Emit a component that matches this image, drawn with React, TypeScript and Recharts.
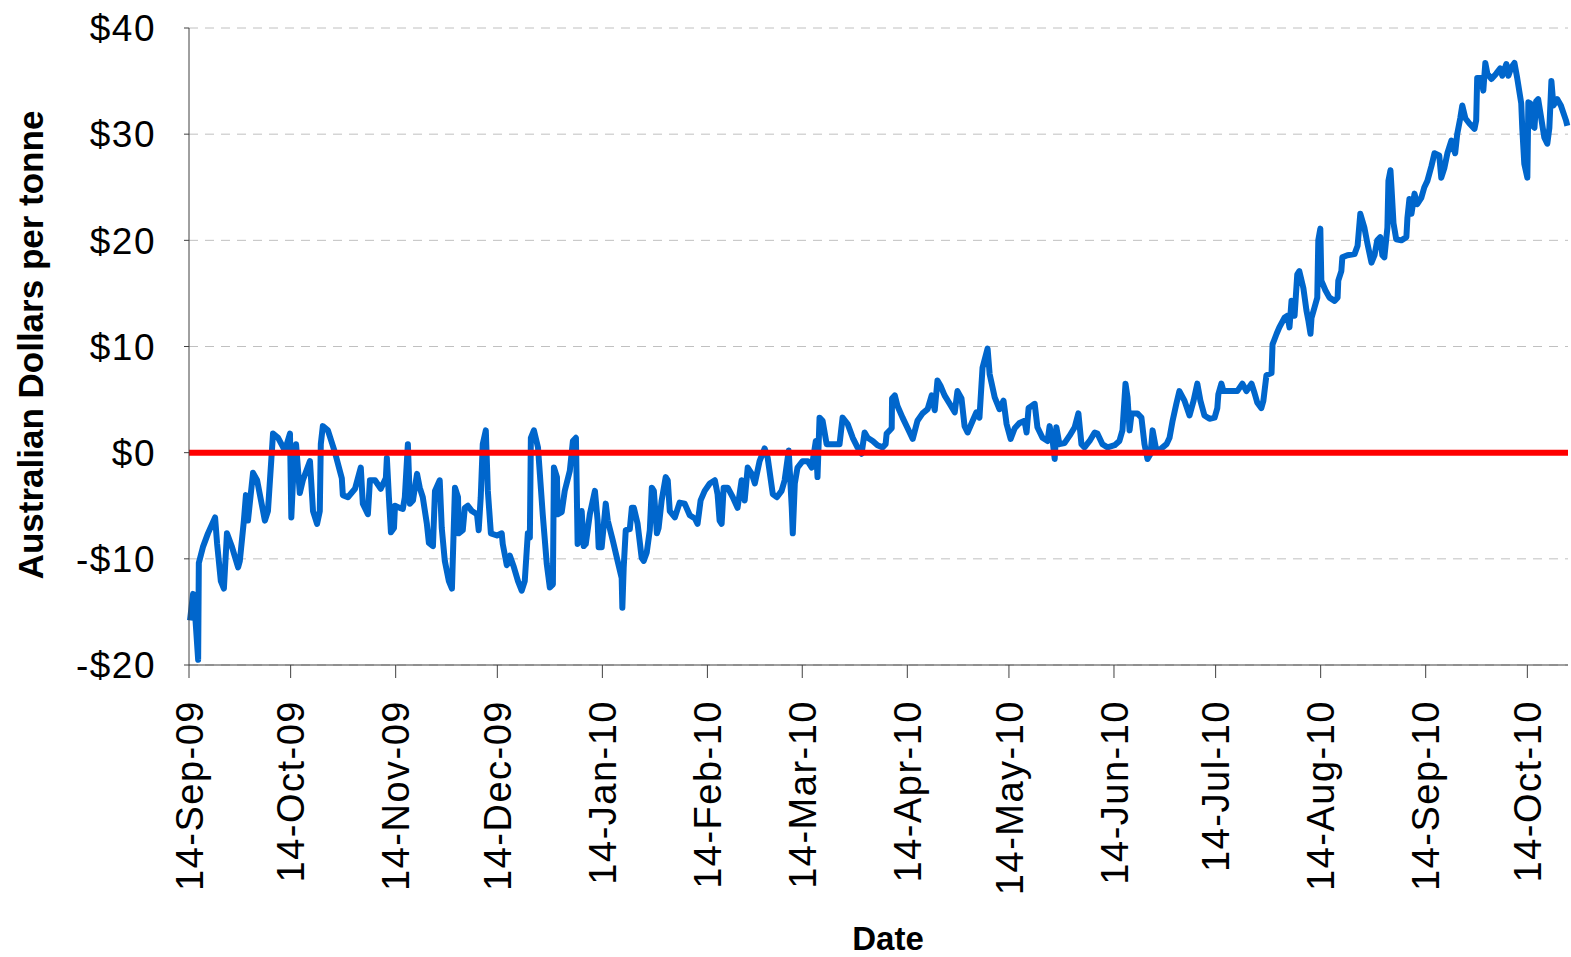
import React from 'react';
import { LineChart, Line, XAxis, YAxis, CartesianGrid, ReferenceLine } from 'recharts';

// days since 14-Sep-09
const tickDays = [0, 30, 61, 91, 122, 153, 181, 212, 242, 273, 303, 334, 365, 395];
const tickLabels = [
  '14-Sep-09', '14-Oct-09', '14-Nov-09', '14-Dec-09', '14-Jan-10', '14-Feb-10', '14-Mar-10',
  '14-Apr-10', '14-May-10', '14-Jun-10', '14-Jul-10', '14-Aug-10', '14-Sep-10', '14-Oct-10',
];
const yTicks = [-20, -10, 0, 10, 20, 30, 40];

const days = [
  0.3, 1.2, 1.8, 2.7, 2.9, 4.1, 5.6, 7.7, 8.3, 9.4, 10.3, 11.2, 12.7, 14.5, 15.0, 16.2, 16.8, 17.4,
  18.9, 20.1, 22.4, 23.3, 24.8, 26.3, 28.3, 29.8, 30.2, 30.7, 31.6, 32.7, 33.6, 35.7, 36.6, 37.8,
  38.6, 38.9, 39.5, 41.0, 43.1, 45.1, 45.4, 46.9, 49.0, 50.7, 51.3, 52.8, 53.4, 54.9, 56.6, 58.1,
  58.4, 59.0, 59.6, 60.5, 60.8, 62.2, 63.1, 63.7, 64.6, 65.2, 66.1, 67.3, 68.1, 69.0, 70.2, 70.8,
  72.0, 72.6, 74.0, 74.6, 75.5, 76.7, 77.6, 78.5, 79.4, 79.6, 80.8, 81.4, 82.3, 83.5, 85.0, 85.5,
  86.1, 86.7, 87.6, 88.2, 89.1, 90.9, 92.3, 92.6, 93.8, 94.7, 95.9, 97.1, 98.2, 99.1, 100.0, 100.6,
  100.9, 101.8, 103.0, 104.4, 105.6, 106.5, 107.4, 107.7, 108.6, 108.8, 110.0, 110.9, 112.4, 113.3,
  114.2, 114.7, 115.3, 115.9, 116.5, 117.1, 118.3, 119.8, 120.6, 120.9, 121.8, 123.0, 123.6, 125.1,
  126.5, 127.7, 127.9, 128.3, 128.9, 130.1, 130.7, 131.3, 132.4, 133.6, 134.2, 135.1, 136.0, 136.6,
  137.2, 138.1, 138.6, 139.5, 140.7, 141.3, 141.9, 143.4, 144.8, 146.3, 147.8, 149.3, 150.1, 151.0,
  152.2, 153.7, 155.2, 156.0, 156.6, 157.2, 157.8, 159.0, 160.5, 161.9, 163.1, 164.0, 164.9, 166.1,
  167.0, 168.4, 169.9, 170.8, 172.3, 173.5, 174.9, 175.8, 177.0, 177.9, 178.2, 178.8, 179.6, 181.1,
  182.6, 183.8, 185.0, 185.5, 186.1, 187.0, 188.2, 190.6, 192.0, 192.9, 194.4, 195.9, 197.3, 198.5,
  199.4, 200.3, 201.8, 203.2, 204.7, 205.6, 205.9, 207.4, 207.5, 208.3, 209.1, 210.6, 212.1, 213.6,
  215.0, 216.5, 218.0, 219.2, 220.1, 220.9, 221.8, 223.0, 224.5, 226.0, 226.8, 228.0, 228.9, 229.8,
  231.3, 232.4, 233.3, 234.2, 235.7, 236.3, 237.8, 239.2, 240.4, 241.3, 242.5, 243.7, 245.1, 246.6,
  247.2, 247.8, 248.7, 249.6, 250.4, 251.9, 253.4, 254.0, 254.9, 255.5, 256.0, 256.9, 258.4, 259.9,
  261.4, 262.5, 263.4, 264.3, 265.8, 267.3, 268.1, 269.6, 271.1, 273.2, 274.6, 275.5, 276.4, 277.0,
  277.6, 278.2, 279.9, 281.1, 282.0, 282.9, 283.8, 284.4, 285.5, 287.0, 288.5, 289.4, 290.3, 291.4,
  292.3, 293.8, 295.3, 296.5, 297.6, 298.5, 299.7, 301.2, 302.7, 303.5, 303.8, 304.7, 305.3, 307.7,
  309.4, 310.9, 312.1, 313.6, 314.5, 315.3, 316.5, 317.1, 318.0, 319.5, 319.8, 321.0, 321.8, 323.3,
  324.2, 324.8, 325.4, 326.3, 327.1, 327.7, 328.9, 329.8, 330.4, 331.0, 331.3, 332.2, 333.0, 333.3,
  333.9, 334.2, 335.4, 336.6, 338.1, 339.0, 339.2, 340.1, 340.4, 341.9, 344.0, 344.9, 345.7, 346.9,
  347.8, 349.0, 349.9, 350.7, 351.6, 352.2, 352.8, 353.7, 354.0, 354.6, 354.9, 355.5, 356.3, 357.8,
  359.3, 359.6, 360.2, 360.8, 361.7, 362.5, 363.7, 364.6, 365.5, 366.7, 367.6, 369.0, 369.6, 370.5,
  371.4, 372.6, 373.2, 373.7, 374.3, 375.2, 375.8, 376.7, 377.9, 379.4, 379.9, 380.2, 381.4, 382.0,
  382.6, 383.2, 384.4, 385.8, 387.0, 387.6, 388.8, 389.4, 390.3, 391.2, 392.0, 393.2, 393.5, 394.1,
  395.0, 395.3, 395.9, 396.5, 397.1, 397.6, 398.2, 399.1, 400.0, 400.9, 401.5, 402.1, 402.7, 403.8,
  404.9, 406.4, 406.8,
];

const spread = [
  -15.8, -13.3, -15.2, -19.5, -10.4, -8.9, -7.6, -6.1, -8.6, -12.1, -12.8, -7.6, -8.9, -10.8, -10.2, -6.4, -4.0, -6.4,
  -1.9, -2.6, -6.4, -5.5, 1.8, 1.4, 0.2, 1.8, -6.1, -2.6, 0.8, -3.8, -2.6, -0.8, -5.5, -6.7,
  -5.5, 0.8, 2.5, 2.1, 0, -2.4, -4.0, -4.2, -3.4, -1.4, -4.8, -5.8, -2.6, -2.6, -3.4, -2.4,
  -0.5, -4.2, -7.5, -7.1, -5.0, -5.2, -5.3, -4.2, 0.8, -4.8, -4.5, -2.0, -3.3, -4.2, -6.7, -8.5,
  -8.8, -3.6, -2.6, -7.1, -10.2, -12.1, -12.8, -3.3, -4.2, -7.6, -7.3, -5.2, -5.0, -5.5, -5.8, -7.3,
  -4.2, 0.8, 2.1, -3.6, -7.6, -7.8, -7.6, -8.6, -10.6, -9.7, -10.8, -12.1, -13.0, -12.1, -7.6, -8.0,
  1.4, 2.1, 0.5, -5.8, -10.5, -12.7, -12.4, -1.4, -2.3, -5.8, -5.6, -3.6, -1.7, 1.1,
  1.4, -8.6, -8.3, -5.5, -8.8, -8.6, -5.8, -3.6, -6.4, -8.9, -8.9, -4.8, -6.4, -8.3,
  -10.2, -11.8, -14.6, -10.8, -7.3, -7.2, -5.2, -5.2, -6.7, -9.9, -10.2, -9.4, -7.3, -3.3,
  -3.6, -7.6, -7.1, -4.5, -2.3, -2.6, -5.5, -6.1, -4.7, -4.8, -5.9, -6.2, -6.7, -4.5,
  -3.6, -2.9, -2.6, -3.9, -6.4, -6.7, -3.3, -3.3, -4.2, -5.2, -2.6, -4.5, -1.4, -2.0,
  -2.9, -0.8, 0.4, -0.5, -3.9, -4.2, -3.6, -2.6, 0.2, -5.2, -7.6, -2.9, -1.4, -0.8,
  -0.8, -1.4, 1.1, -2.3, 3.3, 3.0, 0.8, 0.8, 0.8, 3.3, 2.7, 1.4, 0.5, -0.1,
  1.9, 1.4, 1.1, 0.7, 0.5, 0.8, 1.8, 2.3, 5.1, 5.4, 4.4, 3.3, 2.3, 1.3,
  3.0, 3.7, 4.1, 5.4, 4.0, 6.8, 6.3, 5.4, 4.6, 3.8, 5.8, 5.1, 2.5, 1.9,
  3.0, 3.8, 3.3, 8.0, 9.8, 7.4, 5.2, 4.1, 4.9, 2.7, 1.3, 2.3, 2.8, 3.0,
  1.9, 4.2, 4.4, 4.6, 2.4, 1.4, 1.1, 2.5, 1.1, -0.6, 2.4, 0.8, 0.9, 1.6,
  2.4, 3.7, 0.8, 0.5, 1.1, 1.9, 1.8, 0.8, 0.5, 0.7, 1.1, 2.1, 6.5, 5.2,
  2.1, 3.7, 3.7, 3.3, 0.8, -0.6, -0.1, 2.1, 0.2, 0.4, 0.8, 1.4, 3.0, 4.6,
  5.8, 4.9, 3.5, 4.9, 6.5, 4.9, 3.5, 3.2, 3.3, 4.2, 5.5, 6.5, 5.8, 5.8,
  5.8, 6.5, 5.8, 6.5, 5.6, 4.7, 4.2, 4.9, 7.3, 7.5, 10.2, 11.2, 11.8, 12.7,
  12.9, 11.8, 14.3, 12.9, 16.8, 17.1, 15.5, 13.4, 12.4, 11.2, 12.7, 13.7, 14.6, 20.0,
  21.1, 16.2, 15.3, 14.6, 14.3, 14.6, 16.2, 17.1, 18.4, 18.6, 18.7, 19.5, 22.5, 21.2,
  19.7, 17.9, 18.6, 20.0, 20.3, 18.6, 18.4, 21.2, 25.6, 26.6, 25.0, 21.6, 20.1, 20.0,
  20.3, 22.1, 23.9, 22.5, 24.4, 23.4, 24.0, 25.0, 25.6, 27.0, 28.2, 28.0, 25.9, 26.8,
  28.2, 29.4, 28.7, 28.2, 30.0, 31.5, 32.7, 31.5, 31.0, 30.5, 31.3, 35.3, 35.3, 34.1,
  36.7, 35.7, 35.2, 35.7, 36.2, 35.5, 36.6, 35.5, 36.3, 36.7, 35.3, 32.9, 30.6, 27.2,
  25.9, 33.0, 32.9, 30.8, 30.6, 33.1, 33.3, 31.5, 29.7, 29.1, 30.6, 35.0, 32.7, 33.3,
  32.7, 31.3, 30.8,
];

const data = days.map((d, i) => ({ day: d, value: spread[i] }));

const FONT = '"Liberation Sans", Arial, Helvetica, sans-serif';

const fmtDollar = (v: number) => (v < 0 ? `-$${-v}` : `$${v}`);

const DateTick = (props: any) => {
  const { x, y, payload } = props;
  const idx = tickDays.indexOf(payload.value);
  return (
    <g transform={`translate(${x},${y})`}>
      <text
        x={0}
        y={0}
        dy="0.36em"
        textAnchor="end"
        transform="rotate(-90)"
        fontSize={38}
        fontFamily={FONT}
        letterSpacing={1.5}
        fill="#000"
      >
        {idx >= 0 ? tickLabels[idx] : ''}
      </text>
    </g>
  );
};

const DollarTick = (props: any) => {
  const { x, y, payload } = props;
  return (
    <text
      x={x}
      y={y}
      dy="0.36em"
      textAnchor="end"
      fontSize={37}
      fontFamily={FONT}
      letterSpacing={1.5}
      fill="#000"
    >
      {fmtDollar(payload.value)}
    </text>
  );
};

export default function App() {
  return (
    <div style={{ position: 'absolute', left: 0, top: 0, background: '#fff' }}>
      <LineChart
        width={1571}
        height={957}
        data={data}
        margin={{ top: 28, right: 3, left: 0, bottom: 0 }}
      >
        <CartesianGrid vertical={false} stroke="#c0c0c0" strokeDasharray="9 7" />
        <XAxis
          dataKey="day"
          type="number"
          domain={[0, 407]}
          ticks={tickDays}
          interval={0}
          height={292}
          tickSize={13}
          tickMargin={22}
          tick={<DateTick />}
          stroke="#404040"
          label={{
            content: () => (
              <text x={888} y={938} textAnchor="middle" dominantBaseline="central"
                fontSize={33} fontWeight="bold" fontFamily={FONT} fill="#000">
                Date
              </text>
            ),
          }}
        />
        <YAxis
          type="number"
          domain={[-20, 40]}
          ticks={yTicks}
          interval={0}
          width={189}
          tickSize={5}
          tickMargin={28}
          tick={<DollarTick />}
          stroke="#404040"
          label={{
            content: () => (
              <text x={30} y={345} transform="rotate(-90 30 345)" textAnchor="middle"
                dominantBaseline="central" fontSize={35} fontWeight="bold"
                fontFamily={FONT} fill="#000">
                Australian Dollars per tonne
              </text>
            ),
          }}
        />
        <Line
          type="linear"
          dataKey="value"
          stroke="#0066cc"
          strokeWidth={6}
          strokeLinejoin="round"
          dot={false}
          isAnimationActive={false}
        />
        <ReferenceLine y={0} stroke="#ff0000" strokeWidth={6} />
      </LineChart>
    </div>
  );
}
